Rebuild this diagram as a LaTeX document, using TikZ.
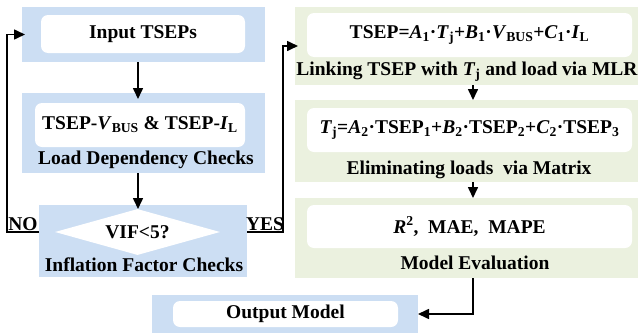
\documentclass[tikz,border=0pt]{standalone}
\usepackage{fontspec}
\setmainfont{Liberation Serif}
\definecolor{PanelBlue}{HTML}{CCDEF3}
\definecolor{PanelGreen}{HTML}{EBF1DF}
\usetikzlibrary{arrows.meta,shapes.geometric}
\newcommand{\flowfont}{\bfseries\fontsize{19.5}{23}\selectfont}
\newcommand{\var}[1]{\textit{#1}}
\tikzset{
  bluePanel/.style={fill=PanelBlue, draw=none, inner sep=0pt, outer sep=0pt},
  greenPanel/.style={fill=PanelGreen, draw=none, inner sep=0pt, outer sep=0pt},
  whiteBox/.style={fill=white, rounded corners=7pt, inner sep=0pt, outer sep=0pt, align=center, font=\flowfont},
  panelLabel/.style={inner sep=0pt, font=\flowfont},
  decisionNode/.style={diamond, aspect=3.6, fill=white, inner sep=0pt, font=\flowfont},
  flowArrow/.style={-{Triangle[length=11pt,width=10pt]}, line width=1.6pt},
  branchLabel/.style={inner sep=1pt, anchor=south, font=\flowfont}
}

\begin{document}
\begin{tikzpicture}[x=1pt,y=-1pt]
\useasboundingbox (0,0) rectangle (638,335);
\coordinate (leftAxis) at (138,0);
\coordinate (rightAxis) at (473,0);

% left column
\node[bluePanel, minimum width=243, minimum height=55] (inPanel) at (143.5,34.5) {};
\node[whiteBox, minimum width=204, minimum height=38] (inBox) at (143,34) {Input TSEPs};

\node[bluePanel, minimum width=243, minimum height=80] (depPanel) at (143.5,133) {};
\node[whiteBox, minimum width=210, minimum height=44] (depBox) at (140,125)
  {TSEP-\var{V}\textsubscript{BUS} \& TSEP-\var{I}\textsubscript{L}};
\node[panelLabel] (depLabel) at (146,160) {Load Dependency Checks};

\node[bluePanel, minimum width=208, minimum height=72] (vifPanel) at (143,241) {};
\node[decisionNode, minimum width=165, minimum height=46] (vifCheck) at (137.5,232) {VIF<5?};
\node[panelLabel] (vifLabel) at (144,265) {Inflation Factor Checks};

\node[bluePanel, minimum width=266, minimum height=38] (outPanel) at (285,314) {};
\node[whiteBox, minimum width=225, minimum height=26] (outBox) at (285.5,314) {Output Model};

% right column
\node[greenPanel, minimum width=343, minimum height=78] (mlrPanel) at (466.5,46) {};
\node[whiteBox, minimum width=325, minimum height=44] (mlrBox) at (469.5,35)
  {TSEP=\var{A}\textsubscript{1}·\var{T}\textsubscript{j}+\var{B}\textsubscript{1}·\var{V}\textsubscript{BUS}+\var{C}\textsubscript{1}·\var{I}\textsubscript{L}};
\node[panelLabel] (mlrLabel) at (467,72) {Linking TSEP with \var{T}\textsubscript{j} and load via MLR};

\node[greenPanel, minimum width=343, minimum height=82] (matPanel) at (466.5,141) {};
\node[whiteBox, minimum width=325, minimum height=44] (matBox) at (469.5,130)
  {\var{T}\textsubscript{j}=\var{A}\textsubscript{2}·TSEP\textsubscript{1}+\var{B}\textsubscript{2}·TSEP\textsubscript{2}+\var{C}\textsubscript{2}·TSEP\textsubscript{3}};
\node[panelLabel] (matLabel) at (469,170) {Eliminating loads~ via Matrix};

\node[greenPanel, minimum width=343, minimum height=80] (evaPanel) at (466.5,238) {};
\node[whiteBox, minimum width=325, minimum height=43] (evaBox) at (469.5,226.5)
  {\var{R}\textsuperscript{2},~ MAE,~ MAPE};
\node[panelLabel] (evaLabel) at (475,263) {Model Evaluation};

% connectors
\draw[flowArrow, shorten >=-6pt] (inPanel.south -| leftAxis) -- (depPanel.north -| leftAxis);
\draw[flowArrow, shorten >=-4pt] (depPanel.south -| leftAxis) -- (vifPanel.north -| leftAxis);
\draw[flowArrow, shorten >=-3pt] (vifCheck -| vifPanel.west) -- node[branchLabel]{NO} ++(-32,0) |- (inPanel.west);
\draw[flowArrow, shorten >=-3pt] (vifCheck -| vifPanel.east) -- node[branchLabel]{YES} ++(36,0) |- (mlrPanel.west);
\draw[flowArrow] (mlrPanel.south -| rightAxis) -- (matPanel.north -| rightAxis);
\draw[flowArrow] (matPanel.south -| rightAxis) -- (evaPanel.north -| rightAxis);
\draw[flowArrow] (evaPanel.south -| rightAxis) |- (outPanel.east);
\end{tikzpicture}
\end{document}
